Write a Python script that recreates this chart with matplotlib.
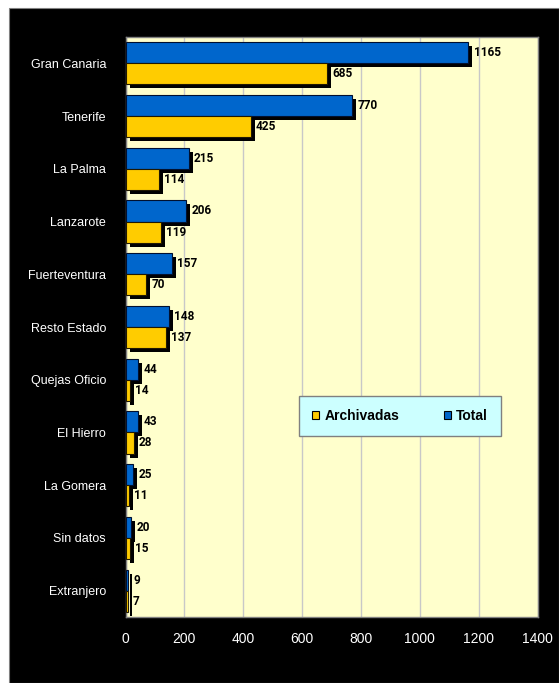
import matplotlib
matplotlib.use("Agg")
import matplotlib.pyplot as plt
import matplotlib.transforms as mtransforms
from matplotlib.patches import Rectangle
import numpy as np

categories = ["Gran Canaria", "Tenerife", "La Palma", "Lanzarote", "Fuerteventura",
              "Resto Estado", "Quejas Oficio", "El Hierro", "La Gomera", "Sin datos",
              "Extranjero"]
total = [1165, 770, 215, 206, 157, 148, 44, 43, 25, 20, 9]
archivadas = [685, 425, 114, 119, 70, 137, 14, 28, 11, 15, 7]
x_ticks = [0, 200, 400, 600, 800, 1000, 1200, 1400]

BLUE = "#0066CC"
YELLOW = "#FFCC00"
PLOT_BG = "#FFFFCC"
LEGEND_BG = "#CCFFFF"

plt.rcParams["font.family"] = ["Liberation Sans", "DejaVu Sans"]

W, H = 559, 683
fig = plt.figure(figsize=(W / 100, H / 100), dpi=100, facecolor="white")

# black chart frame
fig.patches.append(Rectangle((9 / W, 0), 1 - 9 / W, (H - 8) / H,
                             transform=fig.transFigure, facecolor="black",
                             edgecolor="#808080", linewidth=0.8, zorder=-10))

ax = fig.add_axes([125.5 / W, 1 - 617 / H, 412 / W, 580 / H])
ax.set_facecolor(PLOT_BG)

y = np.arange(len(categories))
h = 0.4
shadow = mtransforms.offset_copy(ax.transData, fig=fig, x=4, y=-4, units="dots")

# drop shadows
ax.barh(y - h / 2, total, height=h, color="black", transform=shadow, zorder=2)
ax.barh(y + h / 2, archivadas, height=h, color="black", transform=shadow, zorder=2)

b_tot = ax.barh(y - h / 2, total, height=h, color=BLUE, edgecolor="#001030",
                linewidth=0.8, zorder=3, label="Total")
b_arc = ax.barh(y + h / 2, archivadas, height=h, color=YELLOW, edgecolor="#201800",
                linewidth=0.8, zorder=3, label="Archivadas")

value_font = {"family": ["Roboto", "DejaVu Sans"], "size": 8.5, "weight": "bold"}
for yi, v in zip(y - h / 2, total):
    ax.annotate(str(v), (v, yi), xytext=(3.8, 0), textcoords="offset points",
                va="center", ha="left", color="black", zorder=4, **value_font)
for yi, v in zip(y + h / 2, archivadas):
    ax.annotate(str(v), (v, yi), xytext=(3.8, 0), textcoords="offset points",
                va="center", ha="left", color="black", zorder=4, **value_font)

ax.set_xlim(0, 1400)
ax.set_ylim(len(categories) - 0.5, -0.5)
ax.set_xticks(x_ticks)
ax.set_xticklabels([str(t) for t in x_ticks])
ax.set_yticks(y)
ax.set_yticklabels(categories)
ax.tick_params(axis="x", length=0, pad=11, colors="white", labelsize=10)
ax.tick_params(axis="y", length=0, pad=14, colors="white", labelsize=9)
ax.xaxis.grid(True, color="#C8C8C8", linewidth=1.0, zorder=1)
ax.set_axisbelow(True)
for s in ax.spines.values():
    s.set_color("#808080")
    s.set_linewidth(1.0)

leg = ax.legend(handles=[b_arc, b_tot], labels=["Archivadas", "Total"],
                loc="center", bbox_to_anchor=(0.666, 0.347), ncol=2,
                frameon=True, fancybox=False, facecolor=LEGEND_BG,
                edgecolor="#808080", framealpha=1,
                prop={"weight": "bold", "size": 10},
                handlelength=0.55, handleheight=0.55, handletextpad=0.35,
                columnspacing=3.2, borderpad=0.95, borderaxespad=0)
leg.get_frame().set_linewidth(1.0)
for p in leg.get_patches():
    p.set_edgecolor("black")
    p.set_linewidth(0.8)

fig.savefig("out.png", dpi=100, facecolor="white")
